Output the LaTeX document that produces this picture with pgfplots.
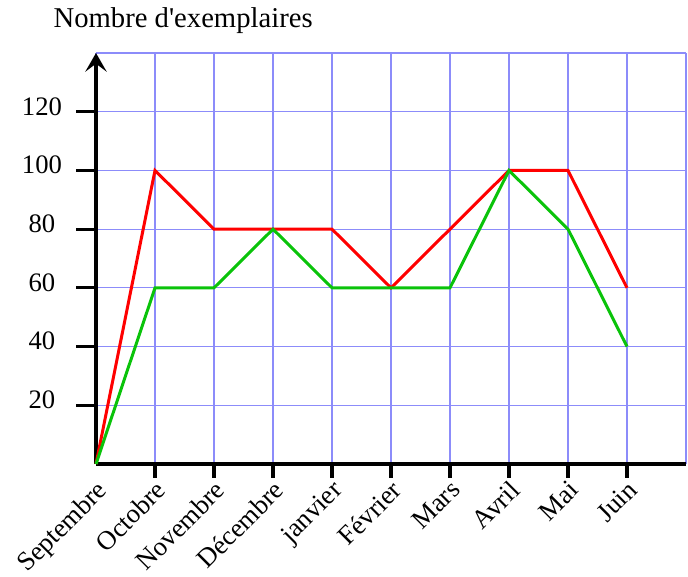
\documentclass[border=0pt]{standalone}
\usepackage{fontspec}
\setmainfont{Liberation Serif}
\usepackage{pgfplots}
\pgfplotsset{compat=1.18}
\usetikzlibrary{arrows.meta}
\definecolor{gridblue}{RGB}{140,140,250}
\definecolor{lred}{RGB}{255,0,0}
\definecolor{lgreen}{RGB}{10,195,10}
\begin{document}
\begin{tikzpicture}
\begin{axis}[
  at={(0,0)}, anchor=south west,
  scale only axis, width=442.5pt, height=308.25pt,
  xmin=0, xmax=10, ymin=0, ymax=140,
  axis x line*=bottom, axis y line*=left,
  axis line style={line width=2.6pt, black},
  y axis line style={-{Stealth[length=14pt,width=16pt,inset=6pt]}},
  xtick={0,...,10},
  xticklabels={Septembre,Octobre,Novembre,Décembre,janvier,Février,Mars,Avril,Mai,Juin,{}},
  ytick={20,40,...,140},
  yticklabels={20,40,60,80,100,120,{}},
  major tick style={draw=none},
  grid=major,
  major grid style={gridblue, line width=0.9pt},
  tick label style={font=\fontsize{20}{24}\selectfont},
  /pgf/number format/assume math mode=true,
  xticklabel style={rotate=45, anchor=north east, inner sep=0pt, xshift=-8.3pt, yshift=-7.4pt},
  yticklabel style={anchor=center, xshift=-40.5pt, yshift=4pt},
  clip=false,
]
\pgfplotsinvokeforeach{1,2,3,4,5,6,7,8,9}{\draw[line width=2.4pt] (axis cs:#1,0) -- ++(0,-10.5pt);}
\pgfplotsinvokeforeach{20,40,60,80,100,120}{\draw[line width=2.4pt] (axis cs:0,#1) -- ++(-15pt,0);}
\addplot[lred, line width=2.25pt] coordinates {(0,0) (1,100) (2,80) (3,80) (4,80) (5,60) (6,80) (7,100) (8,100) (9,60)};
\addplot[lgreen, line width=2.25pt] coordinates {(0,0) (1,60) (2,60) (3,80) (4,60) (5,60) (6,60) (7,100) (8,80) (9,40)};
\end{axis}
\node[anchor=base west, font=\fontsize{21.5}{26}\selectfont, inner sep=0pt] at (-32pt,327pt) {Nombre d\textquotesingle exemplaires};
\pgfresetboundingbox
\path (-72pt,-84pt) rectangle (444pt,348pt);
\end{tikzpicture}
\end{document}
